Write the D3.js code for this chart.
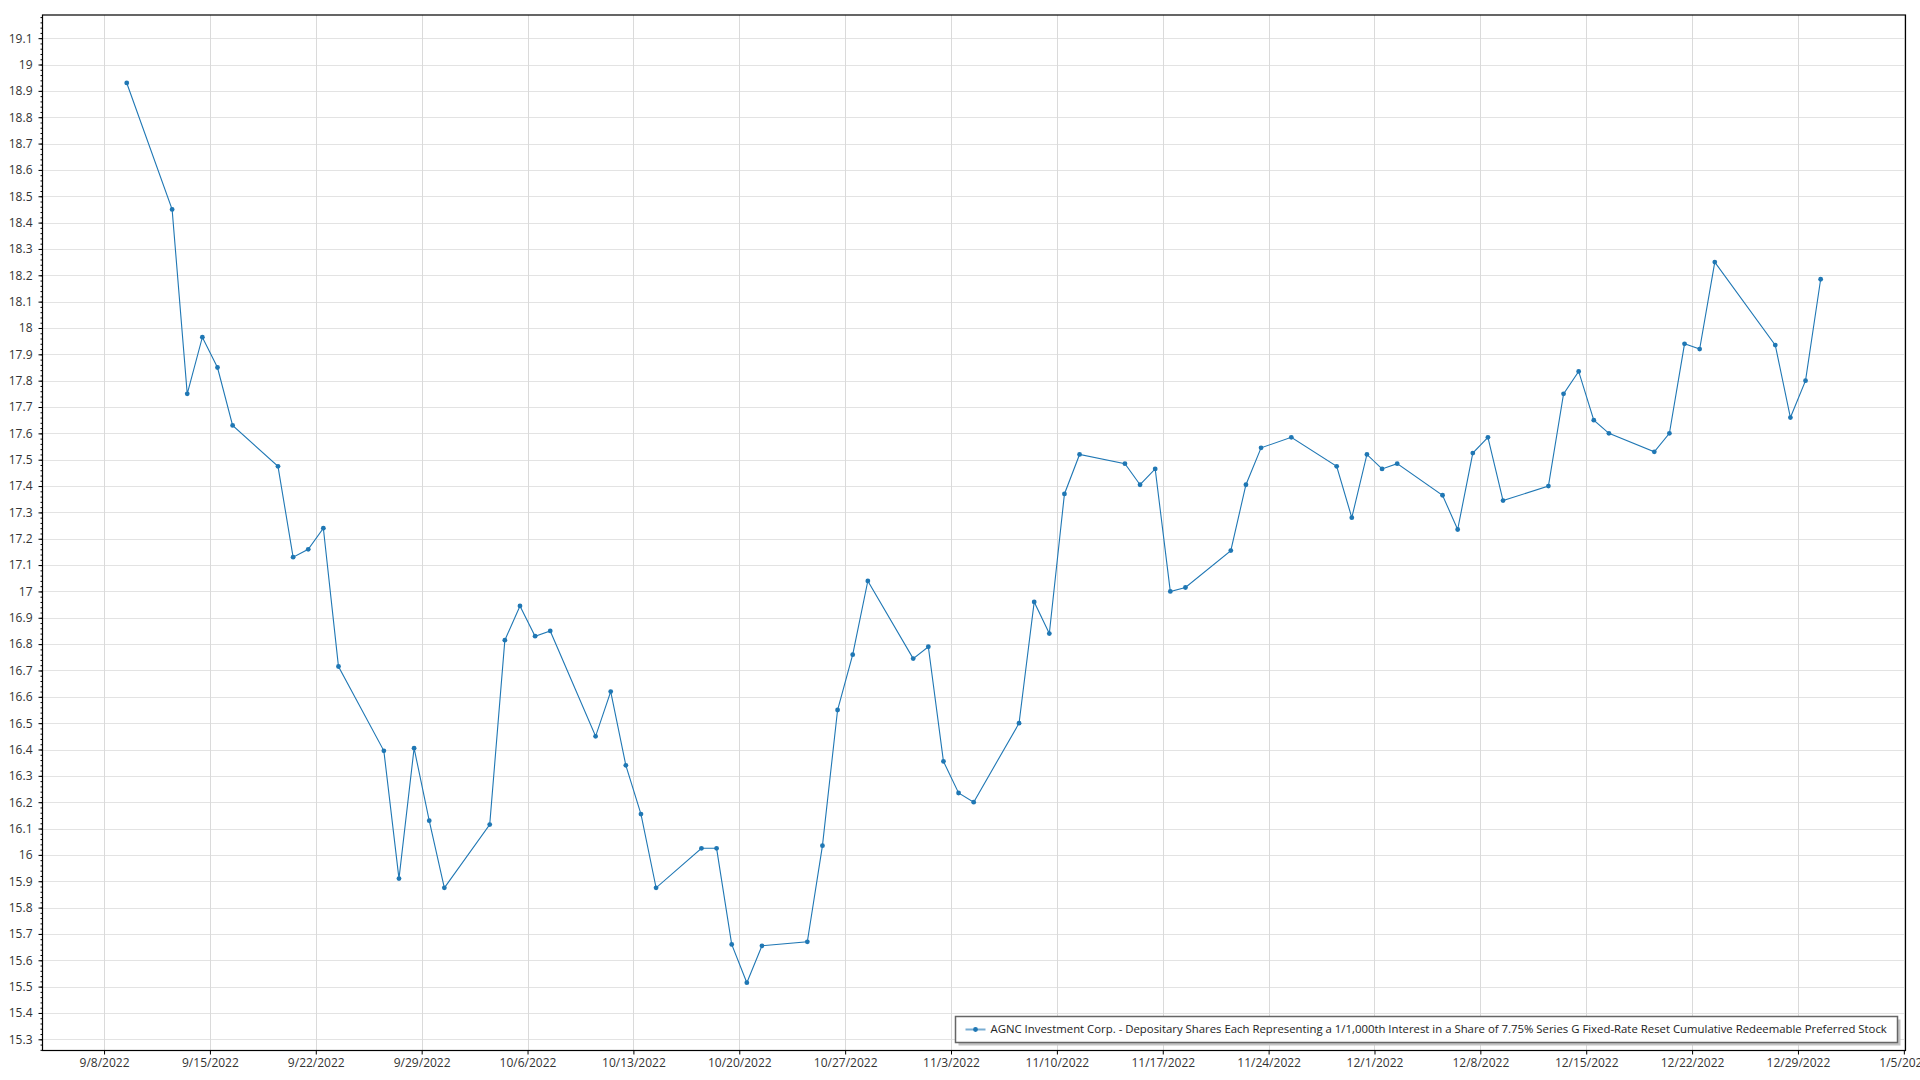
<!DOCTYPE html>
<html><head><meta charset="utf-8">
<script src="https://cdn.jsdelivr.net/npm/d3@7"></script>
<style>
body{margin:0;background:#fff;}
svg text{font-family:"Open Sans","Noto Sans",sans-serif;}
</style>
</head><body>
<svg id="chart" width="1920" height="1080"></svg>
<script>
const seriesName = "AGNC Investment Corp. - Depositary Shares Each Representing a 1/1,000th Interest in a Share of 7.75% Series G Fixed-Rate Reset Cumulative Redeemable Preferred Stock";

const dates = [
 "2022-09-09","2022-09-12","2022-09-13","2022-09-14","2022-09-15","2022-09-16","2022-09-19","2022-09-20","2022-09-21","2022-09-22","2022-09-23","2022-09-26","2022-09-27","2022-09-28","2022-09-29","2022-09-30",
 "2022-10-03","2022-10-04","2022-10-05","2022-10-06","2022-10-07","2022-10-10","2022-10-11","2022-10-12","2022-10-13","2022-10-14","2022-10-17","2022-10-18","2022-10-19","2022-10-20","2022-10-21","2022-10-24","2022-10-25","2022-10-26","2022-10-27","2022-10-28","2022-10-31",
 "2022-11-01","2022-11-02","2022-11-03","2022-11-04","2022-11-07","2022-11-08","2022-11-09","2022-11-10","2022-11-11","2022-11-14","2022-11-15","2022-11-16","2022-11-17","2022-11-18","2022-11-21","2022-11-22","2022-11-23","2022-11-25","2022-11-28","2022-11-29","2022-11-30",
 "2022-12-01","2022-12-02","2022-12-05","2022-12-06","2022-12-07","2022-12-08","2022-12-09","2022-12-12","2022-12-13","2022-12-14","2022-12-15","2022-12-16","2022-12-19","2022-12-20","2022-12-21","2022-12-22","2022-12-23","2022-12-27","2022-12-28","2022-12-29","2022-12-30"
];

const values = [
 18.93,18.45,17.75,17.965,17.85,17.63,17.475,17.13,17.16,17.24,16.715,16.395,15.91,16.405,16.13,15.875,
 16.115,16.815,16.945,16.83,16.85,16.45,16.62,16.34,16.155,15.875,16.025,16.025,15.66,15.515,15.655,15.67,16.035,16.55,16.76,17.04,16.745,
 16.79,16.355,16.235,16.2,16.5,16.96,16.84,17.37,17.52,17.485,17.405,17.465,17.0,17.015,17.155,17.405,17.545,17.585,17.475,17.28,17.52,
 17.465,17.485,17.365,17.235,17.525,17.585,17.345,17.4,17.75,17.835,17.65,17.6,17.53,17.6,17.94,17.92,18.25,17.935,17.66,17.8,18.185
];

const xTickDates = ["2022-09-08","2022-09-15","2022-09-22","2022-09-29","2022-10-06","2022-10-13","2022-10-20","2022-10-27","2022-11-03","2022-11-10","2022-11-17","2022-11-24","2022-12-01","2022-12-08","2022-12-15","2022-12-22","2022-12-29","2023-01-05"];

const yTicks = [15.3,15.4,15.5,15.6,15.7,15.8,15.9,16,16.1,16.2,16.3,16.4,16.5,16.6,16.7,16.8,16.9,17,17.1,17.2,17.3,17.4,17.5,17.6,17.7,17.8,17.9,18,18.1,18.2,18.3,18.4,18.5,18.6,18.7,18.8,18.9,19,19.1];

const yDomain = [15.2575, 19.188];

// ---- helpers
const parseDay = s => { const [y,m,d] = s.split("-").map(Number); return new Date(y, m-1, d); };
const atNoon = s => { const t = parseDay(s); t.setHours(12); return t; };
const DAY = 86400000;

const data = dates.map((d,i) => ({date: atNoon(d), value: values[i]}));
const tickDates = xTickDates.map(parseDay);

const L = 42.5, R = 1905.5, T = 15, B = 1050.5;
const color = "#1f77b4";

const x = d3.scaleTime()
  .domain([new Date(tickDates[0].getTime() - 4.07*DAY), new Date(tickDates[tickDates.length-1].getTime() + 0.11*DAY)])
  .range([L, R]);
const y = d3.scaleLinear().domain(yDomain).range([B, T]);

const svg = d3.select("#chart");
svg.append("rect").attr("width",1920).attr("height",1080).attr("fill","#fff");

// grid
const grid = svg.append("g");
grid.selectAll("line.h").data(yTicks).join("line")
  .attr("x1", L).attr("x2", R)
  .attr("y1", d => Math.round(y(d))+0.5).attr("y2", d => Math.round(y(d))+0.5)
  .attr("stroke", "#e3e3e3").attr("stroke-width", 1);
grid.selectAll("line.v").data(tickDates).join("line")
  .attr("y1", T).attr("y2", B)
  .attr("x1", d => Math.round(x(d))+0.5).attr("x2", d => Math.round(x(d))+0.5)
  .attr("stroke", "#dadada").attr("stroke-width", 1);

// y axis: major + minor ticks
const minorTicks = d3.range(0, 200).map(i => +(15.26 + i*0.02).toFixed(2)).filter(v => v >= yDomain[0] && v <= yDomain[1]);
const yMinor = svg.append("g").attr("transform", `translate(${L},0)`)
  .call(d3.axisLeft(y).tickValues(minorTicks).tickSize(2).tickFormat(""));
yMinor.select(".domain").remove();
yMinor.selectAll("line").attr("stroke", "#000");

const yAxis = svg.append("g").attr("transform", `translate(${L},0)`)
  .call(d3.axisLeft(y).tickValues(yTicks).tickSize(4).tickPadding(6).tickFormat(d => d3.format("")(+d.toFixed(1))));
yAxis.select(".domain").remove();
yAxis.selectAll("line").attr("stroke", "#000");
yAxis.selectAll("text").attr("font-size", 12).attr("fill", "#333")
  .attr("font-family", '"Open Sans","Noto Sans",sans-serif');

// x axis
const xAxis = svg.append("g").attr("transform", `translate(0,${B})`)
  .call(d3.axisBottom(x).tickValues(tickDates).tickSize(4).tickPadding(4).tickFormat(d3.timeFormat("%-m/%-d/%Y")));
xAxis.select(".domain").remove();
xAxis.selectAll("line").attr("stroke", "#000");
xAxis.selectAll("text").attr("font-size", 12).attr("fill", "#333")
  .attr("font-family", '"Open Sans","Noto Sans",sans-serif');

// frame
svg.append("rect").attr("x", L).attr("y", T).attr("width", R-L).attr("height", B-T)
  .attr("fill", "none").attr("stroke", "#000").attr("stroke-width", 1.2);

// series
const line = d3.line().x(d => x(d.date)).y(d => y(d.value));
svg.append("path").datum(data).attr("d", line)
  .attr("fill", "none").attr("stroke", color).attr("stroke-width", 1.1);
svg.append("g").selectAll("circle").data(data).join("circle")
  .attr("cx", d => x(d.date)).attr("cy", d => y(d.value)).attr("r", 2.4).attr("fill", color);

// legend
const lg = svg.append("g");
const lx = 955.5, ly = 1016.5, lw = 942, lh = 26;
lg.append("rect").attr("x", lx+3).attr("y", ly+3).attr("width", lw).attr("height", lh).attr("fill", "#c4c4c4");
lg.append("rect").attr("x", lx).attr("y", ly).attr("width", lw).attr("height", lh)
  .attr("fill", "#fff").attr("stroke", "#666").attr("stroke-width", 1.5);
lg.append("line").attr("x1", lx+10).attr("x2", lx+30).attr("y1", ly+lh/2).attr("y2", ly+lh/2)
  .attr("stroke", color).attr("stroke-opacity", 0.6).attr("stroke-width", 2);
lg.append("circle").attr("cx", lx+20).attr("cy", ly+lh/2).attr("r", 2.4).attr("fill", color);
const lt = lg.append("text").attr("x", lx+35).attr("y", ly+lh/2).attr("dy", "0.35em")
  .attr("font-size", 12).attr("fill", "#222").text(seriesName);
const w = lt.node().getComputedTextLength();
lt.attr("font-size", 12 * 897 / w);
</script>
</body></html>
